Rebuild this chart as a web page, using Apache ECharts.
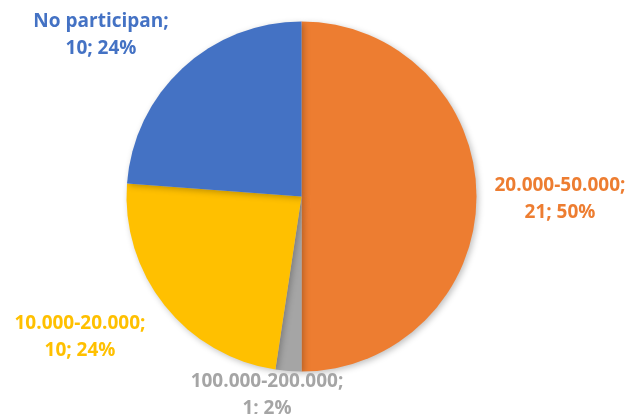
<!DOCTYPE html>
<html>
<head>
<meta charset="utf-8">
<script src="https://cdn.jsdelivr.net/npm/echarts@6/dist/echarts.min.js"></script>
<style>
html,body{margin:0;padding:0;background:#fff;}
#c{width:631px;height:414px;}
</style>
</head>
<body>
<div id="c"></div>
<script>
var categories = ['20.000-50.000', '100.000-200.000', '10.000-20.000', 'No participan'];
var values = [21, 1, 10, 10];
var colors = ['#ED7D31', '#A5A5A5', '#FFC000', '#4472C4'];

var chart = echarts.init(document.getElementById('c'), null, {renderer: 'canvas'});
var labelAnchors = [[560, 199], [267, 395], [80, 337], [101, 35]];
chart.setOption({
  animation: false,
  series: [{
    type: 'pie',
    center: [301.5, 196.5],
    radius: 175,
    startAngle: 90,
    clockwise: true,
    percentPrecision: 0,
    avoidLabelOverlap: false,
    data: categories.map(function (c, i) {
      return {
        name: c, value: values[i],
        itemStyle: {color: colors[i]},
        label: {color: colors[i]}
      };
    }),
    itemStyle: {
      borderWidth: 0,
      shadowBlur: 6,
      shadowColor: 'rgba(0,0,0,0.25)',
      shadowOffsetX: 2,
      shadowOffsetY: 2
    },
    label: {
      show: true,
      position: 'outside',
      formatter: '{b};\n{c}; {d}%',
      fontFamily: 'Open Sans',
      fontWeight: 'bold',
      fontSize: 19,
      lineHeight: 27,
      align: 'center'
    },
    labelLine: {show: false},
    labelLayout: function (p) {
      var a = labelAnchors[p.dataIndex];
      return {x: a[0], y: a[1], align: 'center', verticalAlign: 'middle'};
    },
    emphasis: {disabled: true}
  }]
});
</script>
</body>
</html>
